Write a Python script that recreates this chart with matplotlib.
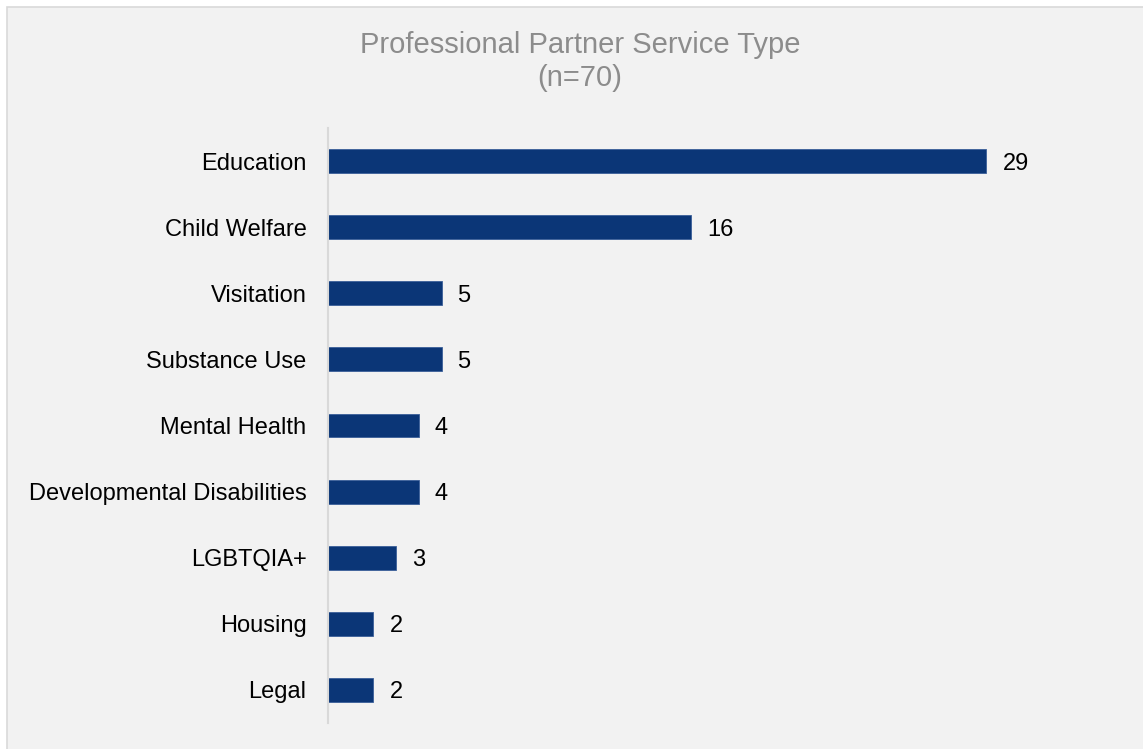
import matplotlib.pyplot as plt
from matplotlib.patches import Rectangle

# 服务类型及数量
service_types = ["Education", "Child Welfare", "Visitation", "Substance Use",
                 "Mental Health", "Developmental Disabilities", "LGBTQIA+",
                 "Housing", "Legal"]
counts = [29, 16, 5, 5, 4, 4, 3, 2, 2]
title_lines = ["Professional Partner Service Type", "(n=70)"]

plt.rcParams['font.family'] = ['Liberation Sans', 'DejaVu Sans']

W, H = 1143, 749
fig = plt.figure(figsize=(W / 100, H / 100), dpi=100, facecolor='white')

# 图表背景区域（左上留白边框，右下延伸出画布）
bg = Rectangle((7 / W, -0.1), 1.2, 1.1 - 7 / H, transform=fig.transFigure,
               facecolor='#f2f2f2', edgecolor='#d9d9d9', linewidth=1.2, zorder=-10)
fig.patches.append(bg)

left, right = 328 / W, 1100 / W
top, bottom = 1 - 128 / H, 1 - 723 / H
ax = fig.add_axes([left, bottom, right - left, top - bottom])
ax.set_facecolor('none')

y = list(range(len(service_types)))
ax.barh(y, counts, height=0.36, color='#0b3677', edgecolor='#3a5f99', linewidth=0.6)
ax.set_ylim(len(service_types) - 0.5, -0.5)
ax.set_xlim(0, 34)

ax.set_yticks(y)
ax.set_yticklabels(service_types, fontsize=17, color='black')
ax.tick_params(axis='y', length=0, pad=15.5)
ax.set_xticks([])

for s in ['top', 'right', 'bottom']:
    ax.spines[s].set_visible(False)
ax.spines['left'].set_color('#d9d9d9')
ax.spines['left'].set_linewidth(1.5)

# 数值标签
for yi, c in zip(y, counts):
    ax.annotate(str(c), (c, yi), xytext=(11.5, 0), textcoords='offset points',
                va='center_baseline', ha='left', fontsize=17, color='black')

fig.text(580 / W, 1 - 45 / H, title_lines[0], ha='center', va='center',
         fontsize=21, color='#8c8c8c')
fig.text(580 / W, 1 - 78 / H, title_lines[1], ha='center', va='center',
         fontsize=21, color='#8c8c8c')

fig.savefig('out.png', dpi=100, facecolor=fig.get_facecolor())
